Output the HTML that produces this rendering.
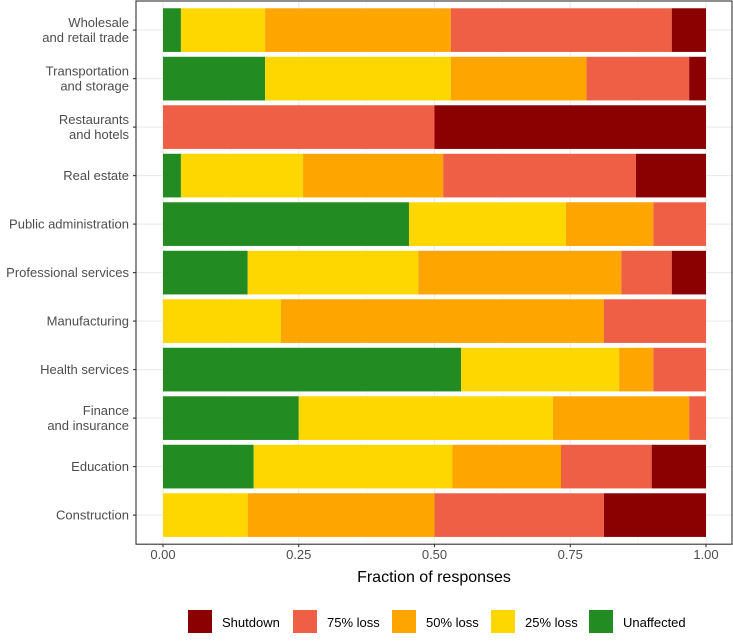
<!DOCTYPE html>
<html><head><meta charset="utf-8"><style>
body{margin:0;background:#fff;font-family:"Liberation Sans",sans-serif;}
</style></head><body>
<svg id="chart" width="733" height="636" xmlns="http://www.w3.org/2000/svg"></svg>
<script>
const categories=["Wholesale\nand retail trade","Transportation\nand storage","Restaurants\nand hotels","Real estate","Public administration","Professional services","Manufacturing","Health services","Finance\nand insurance","Education","Construction"];
const seriesNames=["Unaffected","25% loss","50% loss","75% loss","Shutdown"];
const colors=["#228b22","#ffd700","#ffa500","#ee5f45","#8b0000"];
const unaffected=[0.033,0.188,0,0.033,0.453,0.156,0,0.549,0.25,0.167,0];
const loss25=[0.155,0.342,0,0.225,0.289,0.314,0.217,0.291,0.468,0.366,0.156];
const loss50=[0.342,0.25,0,0.258,0.161,0.374,0.595,0.063,0.251,0.2,0.344];
const loss75=[0.407,0.189,0.5,0.355,0.097,0.093,0.188,0.097,0.031,0.167,0.312];
const shutdown=[0.063,0.031,0.5,0.129,0,0.063,0,0,0,0.1,0.188];
const xTicks=[0,0.25,0.5,0.75,1];
const xTickLabels=["0.00","0.25","0.50","0.75","1.00"];
const series=[unaffected,loss25,loss50,loss75,shutdown];
const NS="http://www.w3.org/2000/svg";
const svg=document.getElementById('chart');
const L=136,R=732,T=1,pitch=48.5,B=T+pitch*11.2;
const x=v=>163+v*543;
const y=i=>T+pitch*(0.6+i);
function mk(t,a,p){const e=document.createElementNS(NS,t);for(const k in a)e.setAttribute(k,a[k]);(p||svg).appendChild(e);return e;}
let e=mk('rect',{x:L,y:T,width:R-L,height:B-T,fill:'#fff'});

for(let k=0;k<xTicks.length-1;k++){const v=(xTicks[k]+xTicks[k+1])/2;e=mk('line',{x1:x(v),x2:x(v),y1:T,y2:B,stroke:'#f2f2f2','stroke-width':0.6});}
xTicks.forEach(v=>{e=mk('line',{x1:x(v),x2:x(v),y1:T,y2:B,stroke:'#ebebeb','stroke-width':1.1});});
categories.forEach((c,i)=>{e=mk('line',{x1:L,x2:R,y1:y(i),y2:y(i),stroke:'#ebebeb','stroke-width':1.1});});
categories.forEach((c,i)=>{
  let acc=0;const h=pitch*0.9;
  series.forEach((s,j)=>{const v=s[i];if(v>0){e=mk('rect',{x:x(acc),y:y(i)-h/2,width:x(acc+v)-x(acc),height:h,fill:colors[j]});}acc+=v;});
  const lines=c.split('\n');
  e=mk('text',{x:L-7,y:y(i)+4.5-(lines.length-1)*7.5,'text-anchor':'end','font-size':13,fill:'#4d4d4d'});
  
  lines.forEach((ln,k)=>{const t=mk('tspan',{x:L-7,dy:k?15:0},e);t.textContent=ln;});
  e=mk('line',{x1:L-3,x2:L,y1:y(i),y2:y(i),stroke:'#333','stroke-width':1.1});
});
e=mk('rect',{x:L,y:T,width:R-L,height:B-T,fill:'none',stroke:'#333','stroke-width':1.1});

xTicks.forEach((v,k)=>{
  e=mk('line',{x1:x(v),x2:x(v),y1:B,y2:B+3,stroke:'#333','stroke-width':1.1});
  e=mk('text',{x:x(v),y:B+15,'text-anchor':'middle','font-size':13,fill:'#4d4d4d'});e.textContent=xTickLabels[k];
  
});
e=mk('text',{x:(L+R)/2,y:B+38,'text-anchor':'middle','font-size':16,fill:'#000'});e.textContent='Fraction of responses';

const legendOrder=[4,3,2,1,0];const legX=[188,293,392,491,589];
legendOrder.forEach((j,k)=>{
  e=mk('rect',{x:legX[k],y:610,width:24,height:23,fill:colors[j]});
  e=mk('text',{x:legX[k]+34,y:627,'font-size':13,fill:'#000'});e.textContent=seriesNames[j];
  
});
</script>
</body></html>
